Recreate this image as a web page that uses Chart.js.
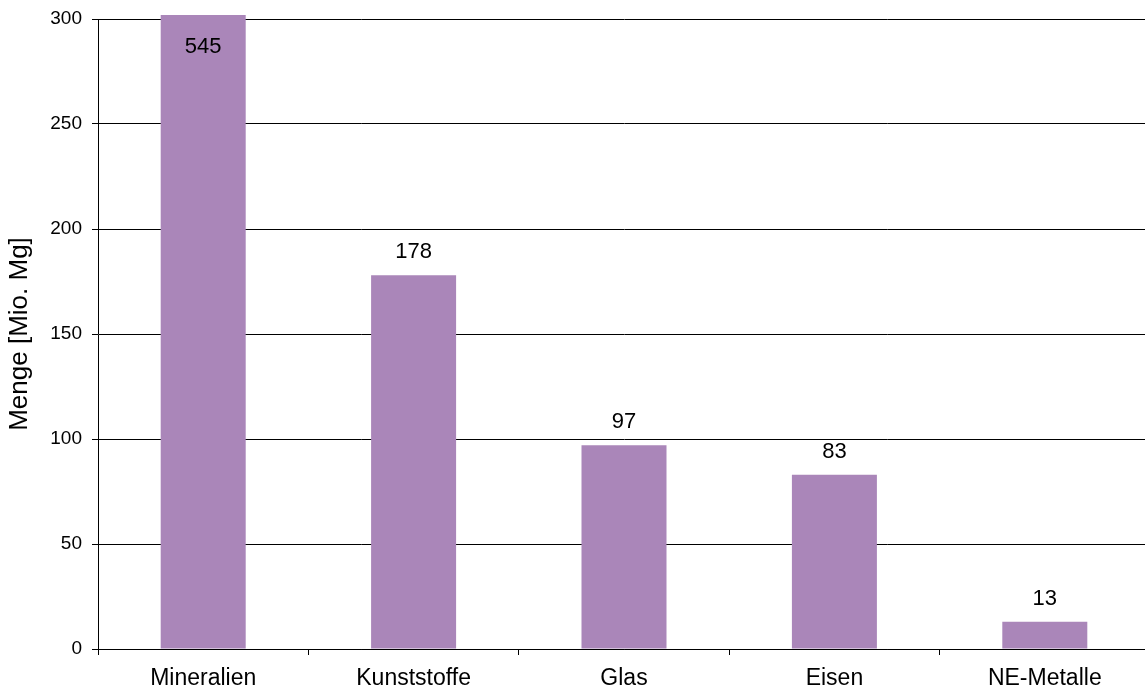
<!DOCTYPE html>
<html>
<head>
<meta charset="utf-8">
<script src="https://cdn.jsdelivr.net/npm/chart.js@4/dist/chart.umd.min.js"></script>
<style>
  html, body { margin: 0; padding: 0; background: #fff; overflow: hidden; }
  #wrap { width: 1152px; height: 693px; }
</style>
</head>
<body>
<div id="wrap"><canvas id="chart" width="1152" height="693"></canvas></div>
<script>
(function() {
    'use strict';

    const categories = ['Mineralien', 'Kunststoffe', 'Glas', 'Eisen', 'NE-Metalle'];
    const amounts = [545, 178, 97, 83, 13];
    const yTicks = [0, 50, 100, 150, 200, 250, 300];

    const FONT = '"Liberation Sans", Arial, sans-serif';
    const yMax = yTicks[yTicks.length - 1];

    // value labels above the bars, inside the bar when it runs off the scale
    const valueLabels = {
        id: 'valueLabels',
        afterDatasetsDraw(chart) {
            const ctx = chart.ctx;
            const meta = chart.getDatasetMeta(0);
            ctx.save();
            ctx.font = '22px ' + FONT;
            ctx.fillStyle = '#000';
            ctx.textAlign = 'center';
            ctx.textBaseline = 'middle';
            meta.data.forEach((bar, i) => {
                const v = amounts[i];
                const y = v > yMax ? chart.chartArea.top + 28 : bar.y - 23;
                ctx.fillText(String(v), bar.x, y);
            });
            ctx.restore();
        }
    };

    new Chart(document.getElementById('chart'), {
        type: 'bar',
        data: {
            labels: categories,
            datasets: [{
                data: amounts,
                backgroundColor: '#aa86b9',
                borderWidth: 0,
                barPercentage: 0.404,
                categoryPercentage: 1,
                clip: { left: 0, top: 4, right: 0, bottom: 0 }
            }]
        },
        options: {
            responsive: false,
            animation: false,
            layout: { padding: { top: 19, right: 2, left: 0, bottom: 0 } },
            plugins: {
                legend: { display: false },
                tooltip: { enabled: false }
            },
            scales: {
                x: {
                    offset: true,
                    grid: {
                        offset: true,
                        drawOnChartArea: false,
                        tickLength: 6,
                        color: '#000'
                    },
                    border: { color: '#000', width: 1 },
                    ticks: {
                        color: '#000',
                        font: { family: FONT, size: 23 },
                        padding: 10,
                        maxRotation: 0
                    },
                    afterFit(scale) { scale.height = 44; }
                },
                y: {
                    min: 0,
                    max: yMax,
                    afterBuildTicks(scale) {
                        scale.ticks = yTicks.map(v => ({ value: v }));
                    },
                    grid: {
                        color: '#000',
                        lineWidth: 1,
                        tickLength: 6
                    },
                    border: { color: '#000', width: 1 },
                    ticks: {
                        color: '#000',
                        font: { family: FONT, size: 19 },
                        padding: 10
                    },
                    title: {
                        display: true,
                        text: 'Menge [Mio. Mg]',
                        color: '#000',
                        font: { family: FONT, size: 26 },
                        padding: { top: 4, bottom: 0 }
                    },
                    afterFit(scale) {
                        scale.width = 98;
                        scale.paddingTop = 0;
                        scale.paddingBottom = 0;
                    }
                }
            }
        },
        plugins: [valueLabels]
    });
})();
</script>
</body>
</html>
